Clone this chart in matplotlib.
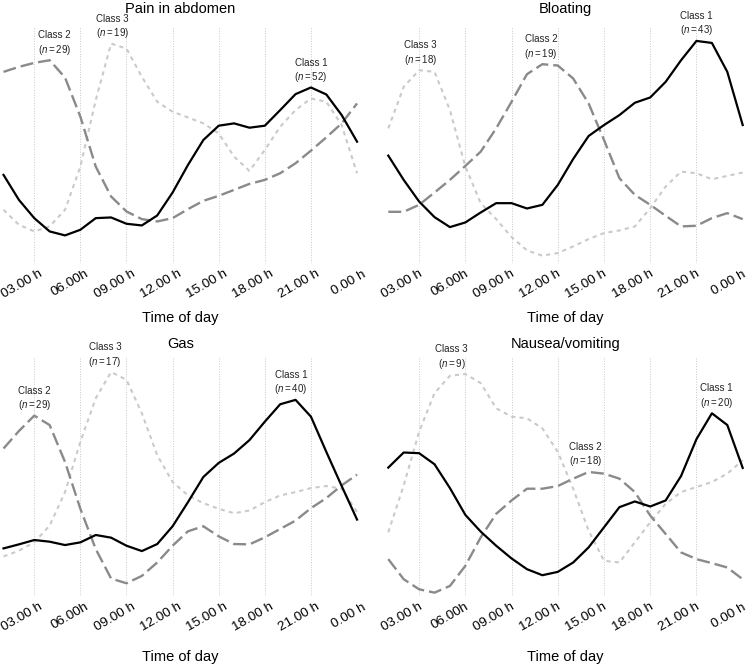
import matplotlib
matplotlib.use("Agg")
import matplotlib.pyplot as plt
import matplotlib.transforms as mtransforms
import numpy as np

plt.rcParams['font.family'] = ['Liberation Sans', 'DejaVu Sans']
plt.rcParams['mathtext.fontset'] = 'custom'
plt.rcParams['mathtext.rm'] = 'Liberation Sans'
plt.rcParams['mathtext.it'] = 'Liberation Sans:italic'

# hours 1..24 (24 = midnight)
hours = np.arange(1, 25)
tick_hours = [3, 6, 9, 12, 15, 18, 21, 24]
tick_labels = ['03.00 h', '06.00h', '09.00 h', '12.00 h', '15.00 h', '18.00 h', '21.00 h', '0.00 h']

titles = ['Pain in abdomen', 'Bloating', 'Gas', 'Nausea/vomiting']

# relative symptom intensity (arbitrary units), per class
pain_c1 = [2.65, 1.90, 1.35, 0.95, 0.83, 1.00, 1.35, 1.37, 1.18, 1.13, 1.43, 2.12,
           2.95, 3.70, 4.13, 4.20, 4.07, 4.13, 4.60, 5.08, 5.28, 5.07, 4.45, 3.65]
pain_c2 = [5.75, 5.90, 6.02, 6.10, 5.58, 4.40, 2.90, 2.00, 1.55, 1.32, 1.25, 1.35,
           1.62, 1.87, 2.02, 2.20, 2.38, 2.50, 2.70, 3.00, 3.38, 3.78, 4.20, 4.80]
pain_c3 = [1.60, 1.15, 0.95, 1.10, 1.60, 2.90, 4.90, 6.60, 6.45, 5.60, 4.85, 4.55,
           4.38, 4.20, 3.90, 3.20, 2.77, 3.40, 4.10, 4.60, 4.95, 4.85, 4.15, 2.70]

bloat_c1 = [3.23, 2.50, 1.85, 1.38, 1.08, 1.22, 1.52, 1.80, 1.80, 1.64, 1.75, 2.35,
            3.13, 3.82, 4.15, 4.45, 4.82, 4.98, 5.45, 6.10, 6.68, 6.62, 5.75, 4.15]
bloat_c2 = [1.54, 1.54, 1.75, 2.12, 2.50, 2.92, 3.35, 4.05, 4.85, 5.68, 5.98, 5.94,
            5.55, 4.80, 3.70, 2.55, 2.05, 1.75, 1.42, 1.10, 1.12, 1.35, 1.50, 1.32]
bloat_c3 = [4.05, 5.30, 5.80, 5.75, 4.60, 2.90, 1.80, 1.32, 0.78, 0.38, 0.22, 0.30,
            0.50, 0.72, 0.90, 0.98, 1.10, 1.65, 2.30, 2.75, 2.70, 2.52, 2.62, 2.72]

gas_c1 = [1.42, 1.54, 1.67, 1.62, 1.52, 1.60, 1.82, 1.74, 1.50, 1.34, 1.55, 2.08,
          2.80, 3.55, 3.97, 4.25, 4.65, 5.20, 5.72, 5.85, 5.35, 4.30, 3.28, 2.28]
gas_c2 = [4.40, 4.92, 5.38, 5.10, 4.00, 2.60, 1.40, 0.52, 0.38, 0.60, 1.00, 1.50,
          1.93, 2.08, 1.78, 1.55, 1.54, 1.75, 2.00, 2.25, 2.62, 2.92, 3.30, 3.62]
gas_c3 = [1.18, 1.35, 1.60, 2.10, 3.10, 4.60, 5.90, 6.68, 6.45, 5.45, 4.20, 3.40,
          3.00, 2.77, 2.60, 2.47, 2.55, 2.80, 3.00, 3.10, 3.22, 3.28, 3.20, 2.50]

naus_c1 = [3.83, 4.28, 4.26, 3.93, 3.22, 2.42, 1.92, 1.50, 1.12, 0.80, 0.62, 0.72,
           1.00, 1.45, 2.05, 2.65, 2.82, 2.67, 2.85, 3.58, 4.68, 5.45, 5.10, 3.82]
naus_c2 = [1.10, 0.50, 0.20, 0.10, 0.30, 0.90, 1.75, 2.45, 2.85, 3.20, 3.20, 3.28,
           3.50, 3.70, 3.65, 3.50, 3.10, 2.40, 1.85, 1.30, 1.10, 0.98, 0.85, 0.50]
naus_c3 = [1.90, 3.30, 4.90, 6.05, 6.57, 6.62, 6.35, 5.60, 5.35, 5.30, 5.00, 4.30,
           3.20, 1.95, 1.05, 1.00, 1.60, 2.20, 2.75, 3.10, 3.25, 3.40, 3.65, 4.05]

series = [
    (pain_c1, pain_c2, pain_c3),
    (bloat_c1, bloat_c2, bloat_c3),
    (gas_c1, gas_c2, gas_c3),
    (naus_c1, naus_c2, naus_c3),
]

# class sizes per panel (class 1, 2, 3)
class_n = [(52, 29, 19), (43, 19, 18), (40, 29, 17), (20, 18, 9)]
# hour at which each class label is centred
label_hour = [(21, 4.3, 8.1), (21, 10.9, 3.1), (19.7, 3.0, 7.6), (22.3, 13.8, 5.1)]

styles = [
    dict(color='black', lw=1.6, linestyle='-'),
    dict(color='#8a8a8a', lw=1.7, linestyle=(0, (5.5, 2.1))),
    dict(color='#cacaca', lw=1.5, linestyle=(0, (2.0, 2.0))),
]

fig = plt.figure(figsize=(7.49, 6.66), dpi=100)
positions = [
    [0.0047, 0.6051, 0.4720, 0.3544],
    [0.5184, 0.6051, 0.4732, 0.3544],
    [0.0047, 0.1051, 0.4720, 0.3574],
    [0.5184, 0.1051, 0.4732, 0.3574],
]
title_pad = [10, 10, 7, 7]
xlabel_drop = [0.55, 0.55, 0.61, 0.61]  # inches below the axes
label_nudge = [0.045, -0.01, 0.045, -0.01]

for i in range(4):
    ax = fig.add_axes(positions[i])
    for k in range(3):
        ax.plot(hours, series[i][k], clip_on=False, zorder=3 - k + 2, **styles[k])
    for k in range(3):
        vals = np.array(series[i][k])
        j = np.argmax(vals)
        lx = label_hour[i][k]
        yv = np.interp(lx, hours, vals)
        yv = max(yv, vals[j]) if abs(hours[j] - lx) < 1.2 else yv
        ax.annotate('Class %d\n' % (k + 1) + r'$(\mathit{n} = %d)$' % class_n[i][k],
                    xy=(lx, yv), xytext=(0, 2.5), textcoords='offset points',
                    ha='center', va='bottom', fontsize=7, linespacing=1.25,
                    annotation_clip=False, color='#222222')
    ax.set_xlim(1, 24)
    ax.set_ylim(0, 7.1)
    ax.set_yticks([])
    ax.set_xticks(tick_hours)
    ax.set_xticklabels([])
    ax.tick_params(axis='x', length=0)
    ax.grid(axis='x', linestyle=':', color='#c8c8c8', lw=0.7)
    for s in ax.spines.values():
        s.set_visible(False)

    # rotated time labels, nudged right of the grid line
    lab_tr = ax.get_xaxis_transform() + mtransforms.ScaledTranslation(label_nudge[i], -0.05, fig.dpi_scale_trans)
    for h, lab in zip(tick_hours, tick_labels):
        ax.text(h, 0, lab, transform=lab_tr, rotation=30, ha='right', va='top',
                rotation_mode='anchor', fontsize=9.7)

    xl_tr = ax.transAxes + mtransforms.ScaledTranslation(0, -xlabel_drop[i], fig.dpi_scale_trans)
    ax.text(0.5, 0, 'Time of day', transform=xl_tr, ha='center', va='center', fontsize=10.5)
    ax.set_title(titles[i], fontsize=10.5, pad=title_pad[i])

fig.savefig('out.png', dpi=100)
